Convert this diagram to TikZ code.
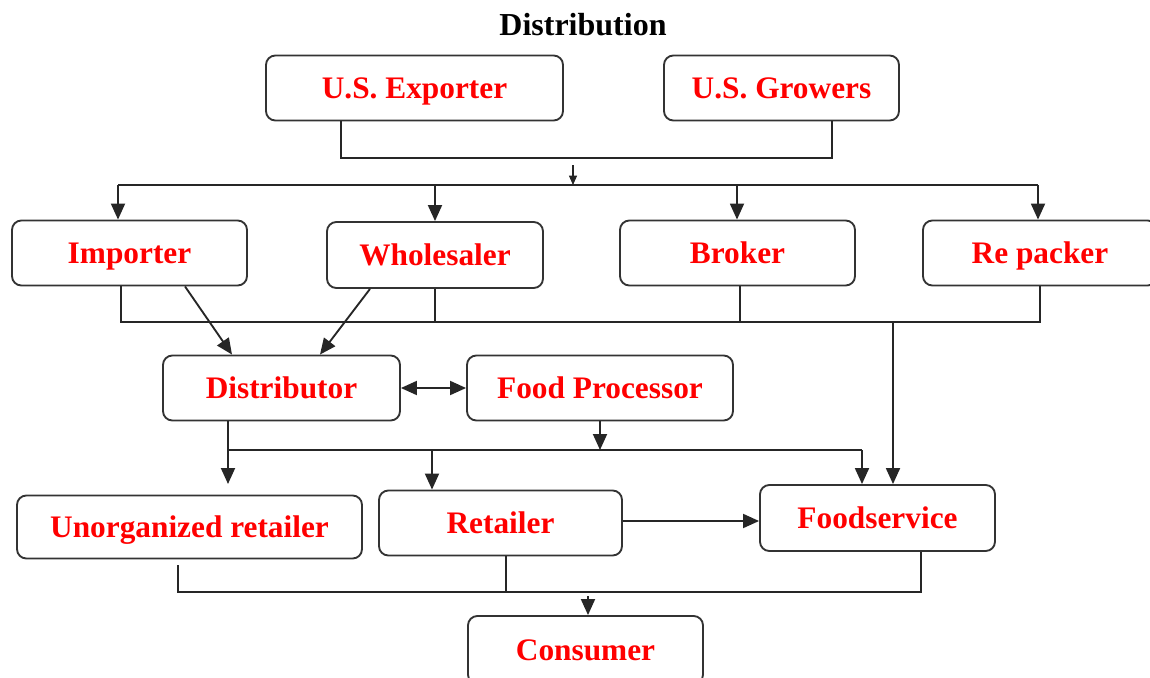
\documentclass[tikz,border=0pt]{standalone}
\usepackage{fontspec}
\setmainfont{Liberation Serif}
\usetikzlibrary{arrows.meta}
\tikzset{
  box/.style={draw=black!80, line width=1.4pt, rounded corners=7pt, text=red, inner sep=0pt,
    font=\fontsize{23.5}{26}\selectfont\bfseries, fill=white, text depth=0pt},
  conn/.style={draw=black!85, line width=1.4pt},
  arr/.style={conn, -{Triangle[length=12pt,width=10.5pt]}},
  darr/.style={conn, {Triangle[length=12pt,width=10.5pt]}-{Triangle[length=12pt,width=10.5pt]}},
  thinarr/.style={draw=black!85, line width=0.8pt, -{Triangle[length=7pt,width=6pt]}},
}
\begin{document}
\begin{tikzpicture}[x=0.75pt,y=-0.75pt]
\useasboundingbox (0,0) rectangle (1150,678);
\node[font=\fontsize{24}{28}\selectfont\bfseries] (title) at (583,25) {Distribution};
% boxes
\node[box, minimum width=222.75pt, minimum height=48.75pt] (exp) at (414.5,88) {U.S. Exporter};
\node[box, minimum width=176.25pt, minimum height=48.75pt] (gro) at (781.5,88) {U.S. Growers};
\node[box, minimum width=176.25pt, minimum height=48.75pt] (imp) at (129.5,253) {Importer};
\node[box, minimum width=162pt, minimum height=49.5pt] (whl) at (435,255) {Wholesaler};
\node[box, minimum width=176.25pt, minimum height=48.75pt] (brk) at (737.5,253) {Broker};
\node[box, minimum width=175.5pt, minimum height=48.75pt] (rep) at (1040,253) {Re packer};
\node[box, minimum width=177.75pt, minimum height=48.75pt] (dis) at (281.5,388) {Distributor};
\node[box, minimum width=199.5pt, minimum height=48.75pt] (fp) at (600,388) {Food Processor};
\node[box, minimum width=258.75pt, minimum height=47.25pt] (uno) at (189.5,527) {Unorganized retailer};
\node[box, minimum width=182.25pt, minimum height=48.75pt] (ret) at (500.5,523) {Retailer};
\node[box, minimum width=176.25pt, minimum height=49.5pt] (fds) at (877.5,518) {Foodservice};
\node[box, minimum width=176.25pt, minimum height=51pt] (con) at (585.5,650) {Consumer};
% top joins
\coordinate (t1) at (341,158);
\coordinate (t2) at (832,158);
\draw[conn] (exp.south -| t1) -- (t1) -- (t2) -- (gro.south -| t2);
\coordinate (a1) at (573,165);
\coordinate (a2) at (573,185);
\draw[thinarr] (a1) -- (a2);
\coordinate (h1) at (118,185);
\coordinate (h2) at (1038,185);
\coordinate (h3) at (737,185);
\draw[conn] (h1) -- (h2);
\draw[arr] (h1) -- (imp.north -| h1);
\draw[arr] (whl.north |- h1) -- (whl.north);
\draw[arr] (h3) -- (brk.north -| h3);
\draw[arr] (h2) -- (rep.north -| h2);
% second bus
\coordinate (b1) at (121,322);
\coordinate (b4) at (1040,322);
\coordinate (b5) at (893,322);
\draw[conn] (imp.south -| b1) -- (b1) -- (b4) -- (rep.south -| b4);
\draw[conn] (whl.south) -- (whl.south |- b1);
\coordinate (b3) at (740,322);
\draw[conn] (brk.south -| b3) -- (b3);
\draw[arr] (b5) -- (fds.north -| b5);
% diagonals
\coordinate (d1) at (185,0);
\coordinate (d2) at (232,0);
\coordinate (d3) at (370,0);
\coordinate (d4) at (320,0);
\draw[arr] (imp.south -| d1) -- (dis.north -| d2);
\draw[arr] (whl.south -| d3) -- (dis.north -| d4);
% double arrow
\draw[darr] (dis.east) -- (fp.west);
% third bus
\coordinate (m1) at (228,450);
\coordinate (m2) at (862,450);
\coordinate (m3) at (432,450);
\coordinate (u1) at (228,484);
\draw[conn] (dis.south -| m1) -- (m1) -- (m2);
\draw[arr] (m1) -- (u1);
\draw[arr] (m2) -- (fds.north -| m2);
\draw[arr] (m3) -- (ret.north -| m3);
\draw[arr] (fp.south) -- (fp.south |- m1);
\coordinate (r1) at (0,521);
\draw[arr] (ret.east |- r1) -- (fds.west |- r1);
% bottom bus
\coordinate (c0) at (178,565);
\coordinate (c1) at (178,592);
\coordinate (c2) at (506,592);
\coordinate (c3) at (921,592);
\coordinate (c4) at (588,596);
\draw[conn] (c0) -- (c1) -- (c3) -- (fds.south -| c3);
\draw[conn] (ret.south -| c2) -- (c2);
\draw[arr] (c4) -- (con.north -| c4);
\end{tikzpicture}
\end{document}
